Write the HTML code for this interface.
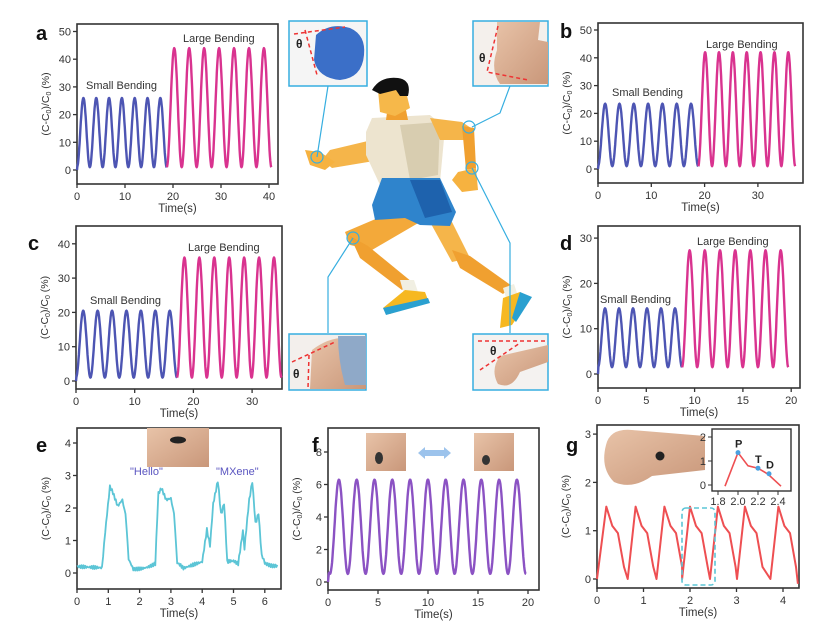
<!DOCTYPE html>
<html><head><meta charset="utf-8">
<style>
html,body{margin:0;padding:0;background:#fff;}
svg{display:block;font-family:"Liberation Sans",Arial,sans-serif;}
.t{font-size:11px;fill:#333;}
.lbl{font-size:20px;font-weight:bold;fill:#111;}
.an{font-size:11px;fill:#333;}
</style></head>
<body>
<svg id="s" width="828" height="639" viewBox="0 0 828 639" xmlns="http://www.w3.org/2000/svg">
<defs>
<linearGradient id="skin" x1="0" y1="0" x2="1" y2="1"><stop offset="0" stop-color="#e8c3a8"/><stop offset="1" stop-color="#c9977a"/></linearGradient>
</defs>
<g id="runner">
 <polygon points="392,212 420,222 372,250 350,245 345,232" fill="#f3a93a"/>
 <polygon points="350,236 368,246 412,282 402,290 360,258" fill="#f0a030"/>
 <polygon points="400,280 414,280 418,292 404,294" fill="#f1efe2"/>
 <polygon points="383,308 405,290 425,292 428,300 390,314" fill="#f6b821"/>
 <polygon points="383,308 428,298 430,303 386,315" fill="#2aa0d0"/>
 <polygon points="430,222 452,222 470,258 452,262" fill="#f5b54a"/>
 <polygon points="452,250 470,256 512,286 503,294 460,268" fill="#f0a030"/>
 <polygon points="503,288 514,284 518,296 506,298" fill="#f1efe2"/>
 <polygon points="503,298 520,292 530,298 512,325 500,328" fill="#f6b821"/>
 <polygon points="520,292 532,297 516,322 512,318" fill="#2aa0d0"/>
 <polygon points="372,140 380,160 332,168 322,160 330,150" fill="#f5b54a"/>
 <polygon points="305,150 320,152 335,162 325,170 310,165" fill="#f6b240"/>
 <polygon points="372,118 430,115 445,128 440,182 380,185 366,155 366,132" fill="#ede4cf"/>
 <polygon points="400,125 440,122 438,175 410,180" fill="#d8cdb0"/>
 <polygon points="382,178 440,178 456,212 450,226 420,225 405,218 375,220 372,205" fill="#2f84cc"/>
 <polygon points="410,180 440,180 452,212 425,218" fill="#1e62ad"/>
 <polygon points="430,118 462,122 474,130 470,140 440,140" fill="#f5b54a"/>
 <polygon points="462,126 474,128 476,168 466,170" fill="#f0a030"/>
 <polygon points="458,172 476,168 478,190 462,192 452,180" fill="#f6b240"/>
 <polygon points="388,105 405,105 408,120 386,120" fill="#f0a030"/>
 <polygon points="378,90 405,88 410,108 395,116 380,112" fill="#f6b84a"/>
 <path d="M372,90 Q380,76 398,78 Q412,80 408,96 L400,96 L396,90 L380,94 Z" fill="#111"/>
</g>
<g stroke="#36aee0" stroke-width="1.2" fill="none">
 <polyline points="328,86 317,157"/>
 <polyline points="510,86 500,113 472,127"/>
 <polyline points="472,168 510,243 510,333"/>
 <polyline points="353,238 328,277 328,333"/>
 <circle cx="317" cy="157" r="6"/>
 <circle cx="469" cy="127" r="6"/>
 <circle cx="472" cy="168" r="6"/>
 <circle cx="353" cy="238" r="6"/>
</g>
<g>
 <rect x="289" y="21" width="78" height="65" fill="#f5f5f5" stroke="#36aee0" stroke-width="1.5"/>
 <path d="M316,35 Q330,22 350,28 Q366,35 364,55 Q362,78 340,80 Q318,78 314,60 Z" fill="#3b6fc8"/>
 <polyline points="294,34 345,27" stroke="#e33" stroke-width="1.5" stroke-dasharray="4,3" fill="none"/>
 <polyline points="305,30 317,75" stroke="#e33" stroke-width="1.5" stroke-dasharray="4,3" fill="none"/>
 <text x="296" y="48" style="font-size:12px;font-weight:bold;fill:#222">θ</text>
 <rect x="473" y="21" width="75" height="65" fill="#f4f0ec" stroke="#36aee0" stroke-width="1.5"/>
 <path d="M497,22 L540,22 L538,40 L548,42 L548,84 L500,84 Q490,70 497,50 Z" fill="url(#skin)"/>
 <polyline points="498,26 487,72 528,80" stroke="#e33" stroke-width="1.5" stroke-dasharray="4,3" fill="none"/>
 <text x="479" y="62" style="font-size:12px;font-weight:bold;fill:#222">θ</text>
 <rect x="289" y="334" width="77" height="56" fill="#f3efec" stroke="#36aee0" stroke-width="1.5"/>
 <path d="M312,350 Q330,336 350,338 L366,338 L366,389 L310,389 Z" fill="url(#skin)"/>
 <path d="M338,336 L366,336 L366,385 L345,385 Q338,360 338,336 Z" fill="#8fa9c8"/>
 <polyline points="292,362 335,342" stroke="#e33" stroke-width="1.5" stroke-dasharray="4,3" fill="none"/>
 <polyline points="309,355 308,388" stroke="#e33" stroke-width="1.5" stroke-dasharray="4,3" fill="none"/>
 <text x="293" y="378" style="font-size:12px;font-weight:bold;fill:#222">θ</text>
 <rect x="473" y="334" width="75" height="56" fill="#f4f2f0" stroke="#36aee0" stroke-width="1.5"/>
 <path d="M500,356 L548,345 L548,362 L520,372 Q512,390 498,384 Q490,370 500,356 Z" fill="url(#skin)"/>
 <polyline points="478,341 548,341" stroke="#e33" stroke-width="1.5" stroke-dasharray="4,3" fill="none"/>
 <polyline points="480,370 520,343" stroke="#e33" stroke-width="1.5" stroke-dasharray="4,3" fill="none"/>
 <text x="490" y="355" style="font-size:12px;font-weight:bold;fill:#222">θ</text>
</g>
<g id="charts"></g>
</svg>
<script>
var NS="http://www.w3.org/2000/svg",G=document.getElementById('charts');
function el(n,a,t){var e=document.createElementNS(NS,n);for(var k in a)e.setAttribute(k,a[k]);if(t!=null)e.textContent=t;G.appendChild(e);return e;}
function panel(o){
 el('rect',{x:o.fx0,y:o.fy0,width:o.fx1-o.fx0,height:o.fy1-o.fy0,fill:'none',stroke:'#333','stroke-width':1.6});
 o.xt.forEach(function(v){var x=o.px0+v*o.sx;el('line',{x1:x,y1:o.fy1,x2:x,y2:o.fy1+4,stroke:'#333','stroke-width':1.3});el('text',{x:x,y:o.fy1+16,'text-anchor':'middle','class':'t'},v);});
 o.yt.forEach(function(v){var y=o.py0-v*o.sy;el('line',{x1:o.fx0,y1:y,x2:o.fx0-4,y2:y,stroke:'#333','stroke-width':1.3});el('text',{x:o.fx0-6,y:y+4,'text-anchor':'end','class':'t'},v);});
 el('text',{x:(o.fx0+o.fx1)/2,y:o.fy1+28,'text-anchor':'middle','class':'t',style:'font-size:11.5px'},'Time(s)');
 var cy=(o.fy0+o.fy1)/2,cx=o.fx0-28;
 var t=el('text',{x:cx,y:cy,'text-anchor':'middle','class':'t',transform:'rotate(-90 '+cx+' '+cy+')',style:'font-size:10.5px'});
 t.innerHTML='(C-C<tspan baseline-shift="-25%" font-size="7">0</tspan>)/C<tspan baseline-shift="-25%" font-size="7">0</tspan> (%)';
 if(o.label)el('text',{x:o.lx,y:o.ly,'class':'lbl'},o.label);
}
function line(o,pts,col,w){var s=pts.map(function(p){return (o.px0+p[0]*o.sx).toFixed(1)+','+(o.py0-p[1]*o.sy).toFixed(1);}).join(' ');el('polyline',{points:s,fill:'none',stroke:col,'stroke-width':w||2.4,'stroke-linejoin':'round'});}
function wave(t0,t1,n,mn,mx){var p=[],T=(t1-t0)/n;for(var i=0;i<=n*40;i++){var t=t0+i*T/40,ph=(t-t0)/T;var c=(1-Math.cos(2*Math.PI*ph))/2;p.push([t,mn+(mx-mn)*c]);}return p;}
function bend(o,s0,s1,sn,smn,smx,l1,ln,lmx){
 var a=wave(s0,s1,sn,smn,smx);a[0][1]=0;line(o,a,'#4d55b3');
 var b=wave(s1,l1,ln,smn,lmx);line(o,b,'#d9338f');
}
var A={fx0:77,fx1:278,fy0:24,fy1:184,px0:77,sx:4.8,py0:170,sy:2.77,xt:[0,10,20,30,40],yt:[0,10,20,30,40,50],label:'a',lx:36,ly:40};
panel(A);bend(A,0,18.7,7,1,26,40.5,7,44);
el('text',{x:86,y:89,'class':'an'},'Small Bending');el('text',{x:183,y:42,'class':'an'},'Large Bending');
var B={fx0:598,fx1:803,fy0:23,fy1:183,px0:598,sx:5.33,py0:169,sy:2.78,xt:[0,10,20,30],yt:[0,10,20,30,40,50],label:'b',lx:560,ly:38};
panel(B);bend(B,0,18.8,7,1,23.5,37,7,42);
el('text',{x:612,y:96,'class':'an'},'Small Bending');el('text',{x:706,y:48,'class':'an'},'Large Bending');
var C={fx0:76,fx1:282,fy0:226,fy1:389,px0:76,sx:5.87,py0:381,sy:3.43,xt:[0,10,20,30],yt:[0,10,20,30,40],label:'c',lx:28,ly:250};
panel(C);bend(C,0,17.2,7,1,20.5,35,7,36);
el('text',{x:90,y:304,'class':'an'},'Small Bending');el('text',{x:188,y:251,'class':'an'},'Large Bending');
var D={fx0:598,fx1:800,fy0:226,fy1:388,px0:598,sx:9.66,py0:374,sy:4.53,xt:[0,5,10,15,20],yt:[0,10,20,30],label:'d',lx:560,ly:250};
panel(D);bend(D,0,8.7,6,1.5,14.5,19.7,7,27.3);
el('text',{x:600,y:303,'class':'an'},'Small Bending');el('text',{x:697,y:245,'class':'an'},'Large Bending');
var E={fx0:77,fx1:281,fy0:428,fy1:589,px0:77,sx:31.3,py0:573,sy:32.5,xt:[0,1,2,3,4,5,6],yt:[0,1,2,3,4],label:'e',lx:36,ly:452};
panel(E);
var ek=[[0,0.2],[0.8,0.2],[0.9,1.2],[1.05,2.6],[1.15,2.5],[1.3,2.1],[1.45,2.3],[1.55,1.8],[1.65,0.4],[1.8,0.1],[2.5,0.3],[2.6,2.4],[2.7,2.65],[2.85,2.3],[3.0,2.35],[3.1,1.8],[3.2,0.3],[3.4,0.1],[4.0,0.3],[4.15,1.3],[4.25,0.9],[4.35,2.1],[4.5,2.8],[4.6,1.8],[4.7,2.2],[4.8,0.3],[5.0,0.4],[5.15,0.3],[5.3,1.3],[5.35,0.8],[5.5,2.3],[5.6,2.8],[5.7,1.5],[5.8,1.9],[5.9,0.5],[6.0,0.3],[6.4,0.25]];
var ep=[];for(var i=0;i<ek.length-1;i++){var a=ek[i],b=ek[i+1];var n=Math.max(1,Math.round((b[0]-a[0])/0.03));for(var j=0;j<n;j++){var t=a[0]+(b[0]-a[0])*j/n;ep.push([t,a[1]+(b[1]-a[1])*j/n+(Math.sin(t*97.3)*0.5+Math.sin(t*211)*0.5)*0.1]);}}
ep.push(ek[ek.length-1]);line(E,ep,'#5cc5d6',1.8);
el('rect',{x:147,y:428,width:62,height:39,fill:'url(#skin)'});el('ellipse',{cx:178,cy:440,rx:8,ry:3.5,fill:'#222'});
el('text',{x:130,y:475,'class':'an',style:'fill:#5a55c0'},'"Hello"');el('text',{x:216,y:475,'class':'an',style:'fill:#5a55c0'},'"MXene"');
var F={fx0:328,fx1:539,fy0:428,fy1:590,px0:328,sx:10,py0:582,sy:16.25,xt:[0,5,10,15,20],yt:[0,2,4,6,8],label:'f',lx:312,ly:452};
panel(F);
var fp=[];var Tf=1.78;for(var i=0;i<=440;i++){var t=i*0.045;var c=(1-Math.cos(2*Math.PI*(t-0.2)/Tf))/2;var v=0.5+5.8*c;if(t<0.6)v=Math.min(v,t*6);fp.push([t,v]);}
line(F,fp,'#8b52c3');
el('rect',{x:366,y:433,width:40,height:38,fill:'url(#skin)'});el('ellipse',{cx:379,cy:458,rx:4,ry:6,fill:'#333'});
el('rect',{x:474,y:433,width:40,height:38,fill:'url(#skin)'});el('ellipse',{cx:486,cy:460,rx:4,ry:5,fill:'#333'});
el('polygon',{points:'418,453 425,447 425,450 444,450 444,447 451,453 444,459 444,456 425,456 425,459',fill:'#9cc3ec'});
var Gp={fx0:597,fx1:799,fy0:425,fy1:588,px0:597,sx:46.5,py0:579,sy:48.3,xt:[0,1,2,3,4],yt:[0,1,2,3],label:'g',lx:566,ly:452};
panel(Gp);
var pk=[0.2,0.83,1.45,2.0,2.6,3.18,3.9];var gp=[[0,0]];
pk.forEach(function(p,i){gp.push([p,1.5],[p+0.13,1.1],[p+0.25,0.95],[p+0.38,0.25]);if(i<pk.length-1){var nx=pk[i+1];gp.push([nx-0.17,0.0]);}});
gp.push([4.32,-0.1]);line(Gp,gp,'#ee4f52',2);
el('rect',{x:682,y:508,width:33,height:77,rx:4,fill:'none',stroke:'#5cc5d6','stroke-width':1.6,'stroke-dasharray':'5,3'});
el('path',{d:'M606,445 Q610,428 632,430 L705,436 L705,470 L652,476 Q632,490 614,482 Q600,468 606,445 Z',fill:'url(#skin)'});
el('circle',{cx:660,cy:456,r:4.5,fill:'#222'});
el('rect',{x:712,y:429,width:79,height:62,fill:'#fff',stroke:'#333','stroke-width':1.4});
[1.8,2.0,2.2,2.4].forEach(function(v){var x=718+(v-1.8)*100;el('line',{x1:x,y1:491,x2:x,y2:495,stroke:'#333'});el('text',{x:x,y:505,'text-anchor':'middle','class':'t'},v.toFixed(1));});
[0,1,2].forEach(function(v){var y=485-v*24;el('line',{x1:712,y1:y,x2:708,y2:y,stroke:'#333'});el('text',{x:706,y:y+4,'text-anchor':'end','class':'t'},v);});
var ip=[[1.87,-0.05],[2.0,1.35],[2.1,0.8],[2.2,0.7],[2.3,0.45],[2.43,-0.05]];
el('polyline',{points:ip.map(function(p){return (718+(p[0]-1.8)*100)+','+(485-p[1]*24);}).join(' '),fill:'none',stroke:'#ee4f52','stroke-width':1.6});
[[2.0,1.35,'P'],[2.2,0.7,'T'],[2.31,0.47,'D']].forEach(function(p){var x=718+(p[0]-1.8)*100,y=485-p[1]*24;el('circle',{cx:x,cy:y,r:2.5,fill:'#4aa0e0'});el('text',{x:x-3,y:y-5,style:'font-size:11px;font-weight:bold;fill:#222'},p[2]);});
</script>
</body></html>
